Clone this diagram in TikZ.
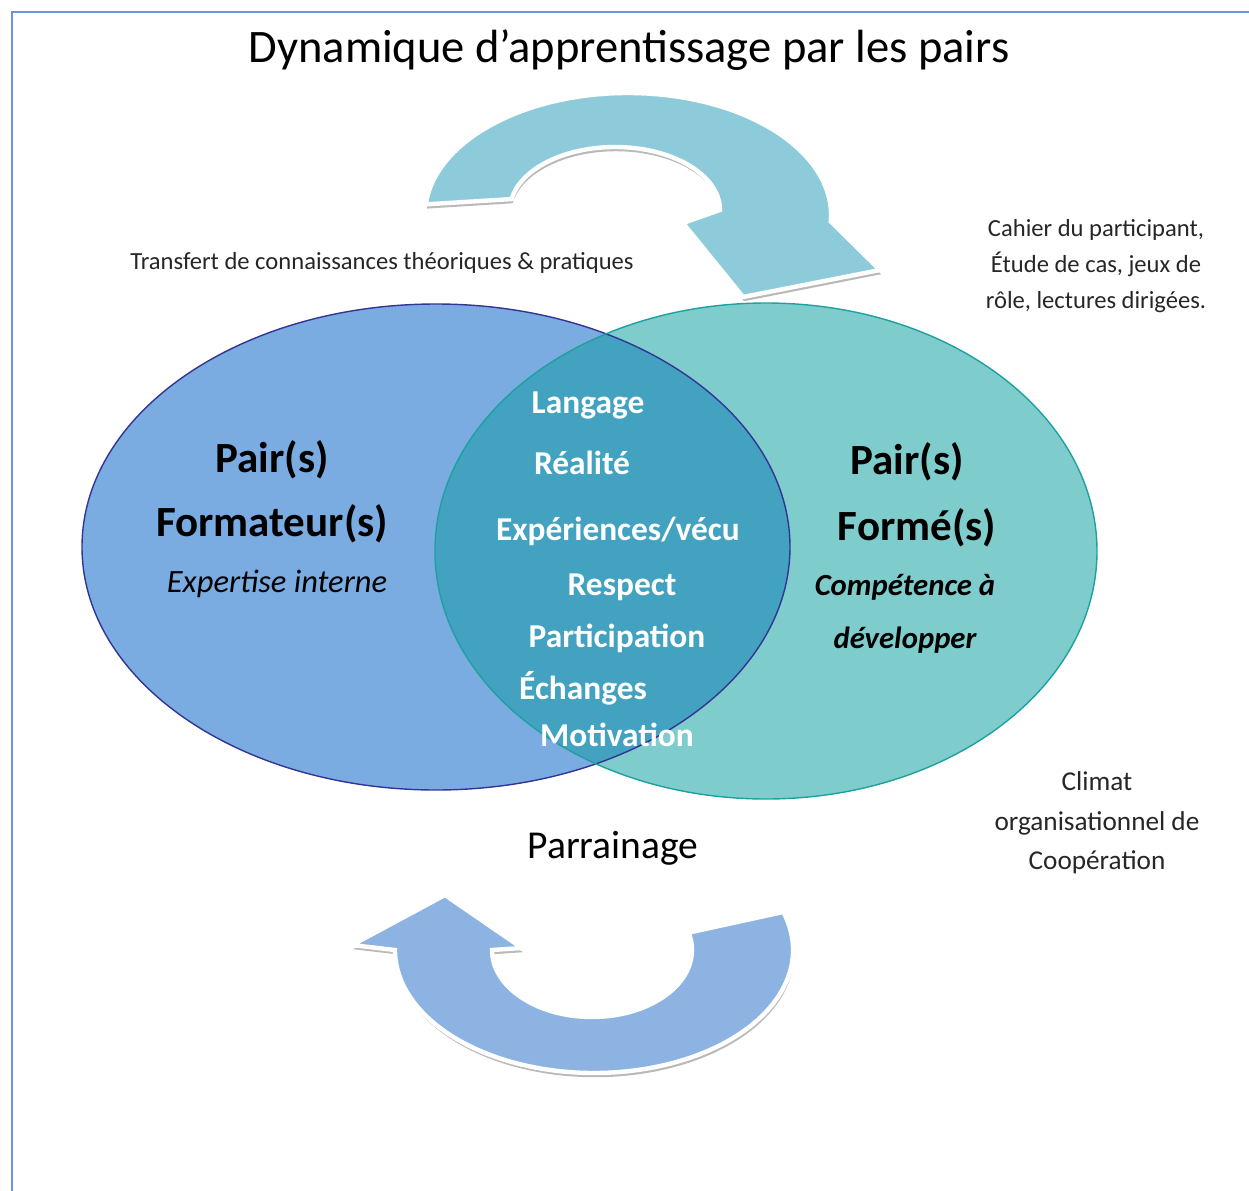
\documentclass[tikz,border=0pt]{standalone}
\usepackage{fontspec}
\setmainfont{Carlito}
\usetikzlibrary{calc,shadows}
\definecolor{framecol}{RGB}{112,148,220}
\definecolor{formateur}{RGB}{122,172,226}
\definecolor{forme}{RGB}{126,205,204}
\definecolor{commun}{RGB}{66,162,192}
\definecolor{formateurline}{RGB}{52,52,150}
\definecolor{formeline}{RGB}{30,160,160}
\definecolor{transfert}{RGB}{142,203,218}
\definecolor{parrain}{RGB}{141,179,226}

\begin{document}
\begin{tikzpicture}[x=0.02cm,y=0.02cm,
  arrowband/.style={fill=#1,draw=white,line width=2.5pt,line join=miter,
    drop shadow={shadow xshift=0.6pt,shadow yshift=-2.4pt,fill=black!55,opacity=0.5}},
  note/.style={align=center,text=black!85,font=\fontsize{14}{20.5}\selectfont},
  big/.style={font=\fontsize{24.5}{28}\selectfont\bfseries},
  core/.style={text=white,font=\fontsize{19}{22}\selectfont\bfseries}]
  \useasboundingbox (0,0) rectangle (1249,-1191);
  \draw[framecol,line width=1.2pt] (12,-1191) -- (12,-12) -- (1249,-12);

  % the two circles of peers
  \fill[formateur] (436,-547) ellipse [x radius=354, y radius=243];
  \fill[forme] (766,-551) ellipse [x radius=331, y radius=248];
  \begin{scope}
    \clip (436,-547) ellipse [x radius=354, y radius=243];
    \fill[commun] (766,-551) ellipse [x radius=331, y radius=248];
  \end{scope}
  \draw[formateurline,line width=0.8pt] (436,-547) ellipse [x radius=354, y radius=243];
  \draw[formeline,line width=0.8pt] (766,-551) ellipse [x radius=331, y radius=248];

  % curved arrows
  \draw[arrowband=transfert] ($(628,-215)+(175:203 and 122)$)
    arc[start angle=175, end angle=-3, x radius=203, y radius=122]
    -- (880,-270) -- (743,-297) -- (683,-223) -- ($(615,-210)+(0:105 and 63)$)
    arc[start angle=0, end angle=170, x radius=105, y radius=63] -- cycle;
  \draw[arrowband=parrain] ($(594,-950)+(18:199 and 123)$)
    arc[start angle=18, end angle=-180, x radius=199, y radius=123]
    -- (352,-945) -- (445,-895) -- (522,-948) -- ($(592,-950)+(180:100 and 67)$)
    arc[start angle=180, end angle=375, x radius=100, y radius=67] -- cycle;

  % texts
  \node[font=\fontsize{26.5}{30}\selectfont] (titre) at (629,-50) {Dynamique d’apprentissage par les pairs};
  \node[note] (transfert) at (382,-263) {Transfert de connaissances théoriques \& pratiques};
  \node[note] (outils) at (1096,-266) {Cahier du participant,\\Étude de cas, jeux de\\rôle, lectures dirigées.};
  \node[note,font=\fontsize{15.5}{22.5}\selectfont] (climat) at (1097,-823) {Climat\\organisationnel de\\Coopération};
  \node[font=\fontsize{22.5}{26}\selectfont] (parrainage) at (613,-848) {Parrainage};

  \node[big] (pair1) at (272,-460) {Pair(s)};
  \node[big] (formateurs) at (272,-524) {Formateur(s)};
  \node[font=\fontsize{18.5}{22}\selectfont\itshape] (expertise) at (277,-584) {Expertise interne};

  \node[big] (pair2) at (907,-462) {Pair(s)};
  \node[big] (formes) at (917,-528) {Formé(s)};
  \node[align=center,font=\fontsize{17.5}{30}\selectfont\bfseries\itshape] (competence) at (905,-614) {Compétence à\\développer};

  \node[core] (langage) at (588,-405) {Langage};
  \node[core] (realite) at (582,-463) {Réalité};
  \node[core] (vecu) at (618,-531) {Expériences/vécu};
  \node[core] (respect) at (622,-587) {Respect};
  \node[core] (participation) at (617,-638) {Participation};
  \node[core] (echanges) at (583,-688) {Échanges};
  \node[core] (motivation) at (617,-735) {Motivation};
\end{tikzpicture}
\end{document}
